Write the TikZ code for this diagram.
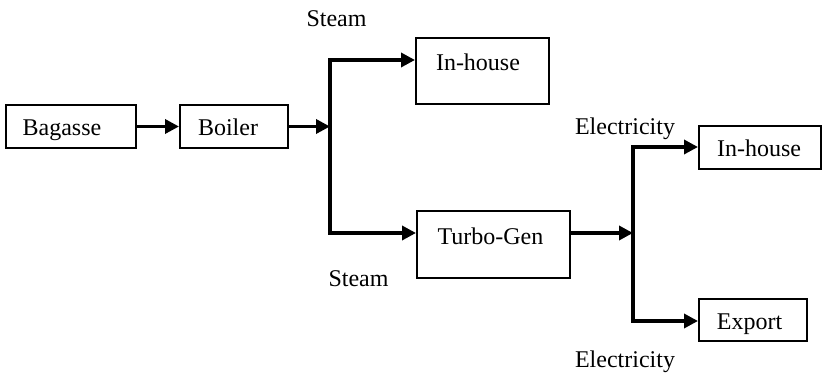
\documentclass[tikz,border=0pt]{standalone}
\usepackage{fontspec}
\setmainfont{Liberation Serif}
\usetikzlibrary{arrows.meta}
\begin{document}
\begin{tikzpicture}[x=1pt,y=-1pt,
  box/.style={draw, line width=2pt, inner sep=0pt, minimum height=43pt},
  flow/.style={line width=3.4pt, line join=miter, -{Triangle[length=14pt,width=14pt]}},
  lbl/.style={font=\fontsize{24}{27}\selectfont, inner sep=0pt, anchor=base}]
\useasboundingbox (0,0) rectangle (823,374);
% boxes
\node[box, minimum width=130pt] (bag) at (71,126.5) {};
\node[box, minimum width=108pt] (boil) at (234,126.5) {};
\node[box, minimum width=133pt, minimum height=66pt] (ih1) at (482.5,71) {};
\node[box, minimum width=153pt, minimum height=67pt] (tg) at (493.5,244.5) {};
\node[box, minimum width=122pt] (ih2) at (760,147.5) {};
\node[box, minimum width=108pt, minimum height=42pt] (ex) at (753,320) {};
% texts
\node[lbl] (tbag) at (62,136) {Bagasse};
\node[lbl] (tboil) at (228,136) {Boiler};
\node[lbl] (tih1) at (478,71) {In-house};
\node[lbl] (ttg) at (490.5,245) {Turbo-Gen};
\node[lbl] (tih2) at (759,157) {In-house};
\node[lbl] (tex) at (749.5,330) {Export};
\node[lbl] (st1) at (336.5,27) {Steam};
\node[lbl] (st2) at (358.5,287) {Steam};
\node[lbl] (el1) at (625,135) {Electricity};
\node[lbl] (el2) at (625,368) {Electricity};
% junctions
\coordinate (j1) at (330,126.5);
\coordinate (j1t) at (330,60);
\coordinate (j1b) at (330,233);
\coordinate (j2) at (633,233);
\coordinate (j2t) at (633,147);
\coordinate (j2b) at (633,321);
% connectors
\draw[flow] (bag.east) -- (boil.west);
\draw[flow] (boil.east) -- (j1);
\draw[flow] (j1b) -- (j1t) -- (ih1.west |- j1t);
\draw[flow] (j1t) -- (j1b) -- (tg.west |- j1b);
\draw[flow] (tg.east |- j2) -- (j2);
\draw[flow] (j2b) -- (j2t) -- (ih2.west |- j2t);
\draw[flow] (j2t) -- (j2b) -- (ex.west |- j2b);
\end{tikzpicture}
\end{document}
